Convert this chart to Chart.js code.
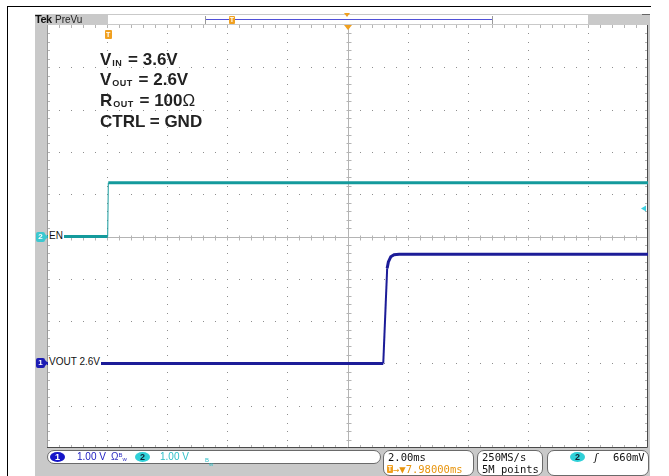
<!DOCTYPE html>
<html>
<head>
<meta charset="utf-8">
<script src="https://cdn.jsdelivr.net/npm/chart.js"></script>
<style>
html, body { margin: 0; padding: 0; background: #fff; width: 669px; height: 476px; overflow: hidden; }
#frame { position: absolute; left: 7px; top: 6px; width: 643px; height: 480px; border-left: 1px solid #000; border-top: 1px solid #000; }
#panel { position: absolute; left: 35px; top: 14px; width: 615px; height: 462px; background: #c9c9c9; }
#chart { position: absolute; left: 0; top: 0; z-index: 1; }
.o { position: absolute; z-index: 2; white-space: nowrap; font-family: "Liberation Sans", Arial, sans-serif; }
.note { font-size: 17px; font-weight: bold; line-height: 17px; color: #222; left: 100px; }
.note sub { font-size: 9px; vertical-align: -1px; letter-spacing: 0.5px; margin-left: 1px; margin-right: 1px; }
.mono { font-family: "DejaVu Sans Mono", monospace; font-size: 10.5px; line-height: 12px; }
.box { position: absolute; z-index: 2; background: #fff; border: 1px solid #6a6a6a; border-radius: 7px; box-sizing: border-box; }
.pill { position: absolute; z-index: 3; border-radius: 50%; font: bold 9px "Liberation Sans", Arial, sans-serif; text-align: center; line-height: 10px; height: 10px; }
.tbadge { position: absolute; z-index: 3; background: #f0a020; color: #fff; font: bold 7px "Liberation Sans", Arial, sans-serif; text-align: center; border-radius: 1px; }
.chm { position: absolute; z-index: 3; width: 9px; height: 10px; font: bold 8px "Liberation Sans", Arial, sans-serif; color: #fff; text-align: center; line-height: 10px; border-radius: 2px; }
.chm::after { content: ""; position: absolute; left: 9px; top: 2px; border-left: 3px solid; border-top: 3px solid transparent; border-bottom: 3px solid transparent; border-left-color: inherit; }
.chl { background: #fff; padding-right: 1px; font-size: 10px; color: #111; line-height: 12px; }
</style>
</head>
<body>
<div id="frame"></div>
<div id="panel"></div>
<canvas id="chart" width="669" height="476"></canvas>

<!-- top record bar -->
<div class="o" style="left:35px;top:13px;font-size:11px;font-weight:bold;color:#111;letter-spacing:-0.5px">Tek</div>
<div class="o" style="left:55px;top:14px;font-size:10px;color:#222">PreVu</div>
<div class="o" style="left:108px;top:15px;width:480px;height:9px;background:#fff;z-index:1"></div>
<div class="o" style="left:205px;top:19px;width:287px;height:1px;background:#5050d8;z-index:2"></div>
<div class="o" style="left:205px;top:16px;width:1px;height:8px;background:#999;z-index:2"></div>
<div class="o" style="left:492px;top:16px;width:1px;height:8px;background:#999;z-index:2"></div>
<div class="tbadge" style="left:229px;top:16px;width:6px;height:8px;line-height:8px">T</div>
<div class="o" style="left:344px;top:13px;width:0;height:0;border-left:3px solid transparent;border-right:3px solid transparent;border-top:4px solid #f0a020"></div>
<div class="o" style="left:642px;top:14px;width:8px;height:1px;background:#666"></div>

<!-- in-plot annotation -->
<div class="o note" style="top:51px">V<sub>IN</sub> = 3.6V</div>
<div class="o note" style="top:71px">V<sub>OUT</sub> = 2.6V</div>
<div class="o note" style="top:92px">R<sub>OUT</sub> = 100<span style="font-weight:normal">Ω</span></div>
<div class="o note" style="top:113px">CTRL = GND</div>

<div id="trigT" class="tbadge" style="top:30px;width:7px;height:9px;line-height:9px">T</div>
<div id="ch2m" class="chm" style="left:36px;background:#3cc8d0;border-color:#3cc8d0">2</div>
<div id="ch2l" class="o chl" style="left:48px;padding-left:1px">EN</div>
<div id="ch1m" class="chm" style="left:36px;background:#1c1cb4;border-color:#1c1cb4">1</div>
<div id="ch1l" class="o chl" style="left:48px;padding-left:1px">VOUT 2.6V</div>

<!-- status bar -->
<div class="box" style="left:47px;top:450px;width:334px;height:14px"></div>
<div class="pill" style="left:50px;top:452px;width:15px;background:#1414c8;color:#fff">1</div>
<div class="o" style="left:77px;top:451px;font-size:10px;color:#2020c0">1.00 V</div>
<div class="o" style="left:111px;top:451px;font-size:10px;color:#3030c0">Ω<span style="font-size:6px;vertical-align:3px">B</span><span style="font-size:6px;vertical-align:-1px">w</span></div>
<div class="pill" style="left:135px;top:452px;width:15px;background:#30d0d8;color:#123">2</div>
<div class="o" style="left:160px;top:451px;font-size:10px;color:#30c0c8">1.00 V</div>
<div class="o" style="left:205px;top:451px;color:#30c0c8"><span style="font-size:6px;vertical-align:3px">B</span><span style="font-size:6px;vertical-align:-1px">w</span></div>

<div class="box" style="left:383px;top:450px;width:91px;height:26px"></div>
<div class="o mono" style="left:388px;top:451px;color:#111">2.00ms</div>
<div class="tbadge" style="left:387px;top:465px;width:6px;height:8px;line-height:8px">T</div>
<div class="o mono" style="left:393px;top:463px;color:#e8940c">→▼7.98000ms</div>

<div class="box" style="left:477px;top:450px;width:66px;height:26px"></div>
<div class="o mono" style="left:482px;top:451px;color:#111">250MS/s</div>
<div class="o mono" style="left:482px;top:463px;color:#111">5M points</div>

<div class="box" style="left:547px;top:450px;width:102px;height:26px"></div>
<div class="pill" style="left:570px;top:452px;width:15px;background:#30d0d8;color:#123">2</div>
<div class="o mono" style="left:593px;top:451px;color:#111;font-style:italic">ʃ</div>
<div class="o mono" style="left:613px;top:451px;color:#111">660mV</div>

<script>
// scope settings
const msPerDiv = 2;
const voltsPerDiv = 1;
const delayMs = 7.98;
const ch1OffsetDiv = -3;
const ch2OffsetDiv = 0;
const triggerLevel = 0.66;

// CH2 : EN
const enTime = [-2.02, 0, 0.02, 17.98];
const enVolts = [0, 0, 1.27, 1.27];

// CH1 : VOUT
const voutTime = [-2.02, 9.17, 9.30, 9.34, 9.42, 9.53, 9.70, 17.98];
const voutVolts = [0, 0, 2.25, 2.40, 2.52, 2.57, 2.58, 2.58];

const graticule = {
    id: "graticule",
    beforeDraw(chart) {
        const { ctx, chartArea: a } = chart;
        ctx.save();
        ctx.fillStyle = "#fff";
        ctx.fillRect(a.left, a.top, a.right - a.left, a.bottom - a.top);
        ctx.restore();
    },
    beforeDatasetsDraw(chart) {
        const { ctx, chartArea: a, scales: { x, y } } = chart;
        const xp = i => Math.round(x.getPixelForValue(x.min + i * msPerDiv / 5));
        const yp = j => Math.round(y.getPixelForValue(y.min + j * voltsPerDiv / 5));
        ctx.save();

        // dotted division lines
        ctx.fillStyle = "#8e8e8e";
        for (let i = 5; i < 50; i += 5) {
            if (i === 25) continue;
            for (let j = 1; j < 50; j++) ctx.fillRect(xp(i), yp(j), 1, 1);
        }
        for (let j = 5; j < 50; j += 5) {
            if (j === 25) continue;
            for (let i = 1; i < 50; i++) ctx.fillRect(xp(i), yp(j), 1, 1);
        }

        // centre crosshair with minor ticks
        const cx = xp(25) + 0.5, cy = yp(25) + 0.5;
        ctx.strokeStyle = "#b4b4b4";
        ctx.lineWidth = 1;
        ctx.beginPath();
        ctx.moveTo(cx, a.top); ctx.lineTo(cx, a.bottom);
        ctx.moveTo(a.left, cy); ctx.lineTo(a.right, cy);
        for (let i = 1; i < 50; i++) {
            ctx.moveTo(xp(i) + 0.5, cy - 2); ctx.lineTo(xp(i) + 0.5, cy + 3);
            ctx.moveTo(xp(i) + 0.5, a.top); ctx.lineTo(xp(i) + 0.5, a.top + 3);
            ctx.moveTo(xp(i) + 0.5, a.bottom - 3); ctx.lineTo(xp(i) + 0.5, a.bottom);
        }
        for (let j = 1; j < 50; j++) {
            ctx.moveTo(cx - 2, yp(j) + 0.5); ctx.lineTo(cx + 3, yp(j) + 0.5);
            ctx.moveTo(a.left, yp(j) + 0.5); ctx.lineTo(a.left + 3, yp(j) + 0.5);
            ctx.moveTo(a.right - 3, yp(j) + 0.5); ctx.lineTo(a.right, yp(j) + 0.5);
        }
        ctx.stroke();

        // frame edges
        ctx.strokeStyle = "#9a9a9a";
        ctx.beginPath();
        ctx.moveTo(a.left + 0.5, a.top); ctx.lineTo(a.left + 0.5, a.bottom);
        ctx.stroke();
        ctx.strokeStyle = "#4a4a4a";
        ctx.beginPath();
        ctx.moveTo(a.right - 0.5, a.top); ctx.lineTo(a.right - 0.5, a.bottom - 0.5);
        ctx.lineTo(a.left, a.bottom - 0.5);
        ctx.stroke();
        ctx.restore();
    },
    afterDatasetsDraw(chart) {
        const { ctx, chartArea: a, scales: { x, y } } = chart;
        const cx = x.getPixelForValue(delayMs) + 0.5;
        ctx.save();
        // expansion point marker
        ctx.fillStyle = "#f0a020";
        ctx.beginPath();
        ctx.moveTo(cx - 4, a.top); ctx.lineTo(cx + 4, a.top); ctx.lineTo(cx, a.top + 5);
        ctx.fill();
        // CH2 trigger level marker
        const ty = y.getPixelForValue(triggerLevel);
        ctx.fillStyle = "#40d0e0";
        ctx.beginPath();
        ctx.moveTo(a.right - 2, ty - 3); ctx.lineTo(a.right - 2, ty + 3); ctx.lineTo(a.right - 7, ty);
        ctx.fill();
        ctx.restore();
    }
};

const chart = new Chart(document.getElementById("chart"), {
    type: "line",
    data: {
        datasets: [
            {
                label: "EN",
                data: enTime.map((t, i) => ({ x: t, y: enVolts[i] })),
                yAxisID: "y",
                borderColor: "#149a9c",
                borderWidth: 3,
                segment: { borderWidth: c => Math.abs(c.p1.parsed.y - c.p0.parsed.y) > 0.5 ? 1 : 3 }
            },
            {
                label: "VOUT",
                data: voutTime.map((t, i) => ({ x: t, y: voutVolts[i] })),
                yAxisID: "y1",
                borderColor: "#1c1c98",
                borderWidth: 3,
                segment: { borderWidth: c => Math.abs(c.p1.parsed.y - c.p0.parsed.y) > 1 ? 2 : 3 }
            }
        ]
    },
    options: {
        responsive: false,
        animation: false,
        layout: { padding: { left: 47, top: 25, right: 21, bottom: 28 } },
        elements: { point: { radius: 0 }, line: { tension: 0 } },
        plugins: { legend: { display: false }, tooltip: { enabled: false } },
        scales: {
            x: { type: "linear", min: delayMs - 5 * msPerDiv, max: delayMs + 5 * msPerDiv, display: false },
            y: { min: (-5 - ch2OffsetDiv) * voltsPerDiv, max: (5 - ch2OffsetDiv) * voltsPerDiv, display: false },
            y1: { min: (-5 - ch1OffsetDiv) * voltsPerDiv, max: (5 - ch1OffsetDiv) * voltsPerDiv, display: false }
        }
    },
    plugins: [graticule]
});

// place channel reference markers on their ground levels
const g2 = chart.scales.y.getPixelForValue(0);
const g1 = chart.scales.y1.getPixelForValue(0);
document.getElementById("ch2m").style.top = (g2 - 5) + "px";
document.getElementById("ch2l").style.top = (g2 - 7) + "px";
document.getElementById("ch1m").style.top = (g1 - 5) + "px";
document.getElementById("ch1l").style.top = (g1 - 7) + "px";
document.getElementById("trigT").style.left = (chart.scales.x.getPixelForValue(0) - 3) + "px";
</script>
</body>
</html>
